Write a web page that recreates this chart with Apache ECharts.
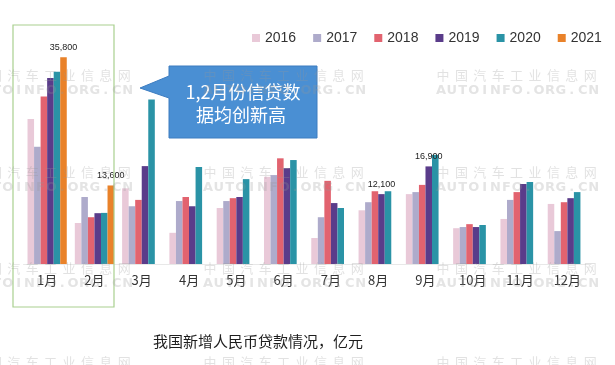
<!DOCTYPE html>
<html><head><meta charset="utf-8">
<script src="https://cdn.jsdelivr.net/npm/echarts@6/dist/echarts.min.js"></script>
<style>html,body{margin:0;padding:0;background:#fff}#c{width:615px;height:365px}</style>
</head><body><div id="c"></div>
<script>
const months = ['1月','2月','3月','4月','5月','6月','7月','8月','9月','10月','11月','12月'];
const years = ['2016','2017','2018','2019','2020','2021'];
const colors = ['#e9c9d8','#aeabcb','#e2636f','#5a3c8a','#2a93a6','#e9822a'];
const v2016 = [25100, 7100, 13100, 5400, 9700, 15100, 4500, 9300, 12100, 6200, 7800, 10400];
const v2017 = [20300, 11600, 10000, 10900, 10900, 15400, 8100, 10700, 12450, 6400, 11100, 5700];
const v2018 = [29000, 8100, 11100, 11600, 11400, 18300, 14400, 12600, 13700, 6900, 12450, 10700];
const v2019 = [32200, 8800, 16950, 10000, 11600, 16600, 10550, 12100, 16900, 6400, 13850, 11400];
const v2020 = [33300, 8850, 28500, 16800, 14700, 18000, 9700, 12600, 18900, 6750, 14200, 12450];
const v2021 = [35800, 13600, null, null, null, null, null, null, null, null, null, null];
// value labels shown in the chart: [series index, month index]
const labelled = [[5,0],[5,1],[3,7],[3,8]];
const titleText = '我国新增人民币贷款情况，亿元';
const calloutLines = ['1,2月份信贷数','据均创新高'];
const wmCN = '中国汽车工业信息网';
const wmEN = 'AUTOINFO.ORG.CN';

const allVals = [v2016,v2017,v2018,v2019,v2020,v2021];
const fmt = v => v.toLocaleString('en-US');
const series = years.map((y,si) => ({
  name: y, type: 'bar', barGap: '0%', barCategoryGap: '17%',
  itemStyle: {color: colors[si]},
  data: allVals[si].map((v,mi) => {
    const lab = labelled.some(p => p[0]===si && p[1]===mi);
    return lab ? {value: v, label: {show: true, position: 'top', distance: 5, fontSize: 9, color: '#222', fontFamily: 'Liberation Sans', formatter: p => fmt(p.value)}} : v;
  })
}));

const wm = [];
[-30, 203, 436].forEach(x => [75, 172, 268, 362].forEach(y => {
  wmCN.split('').forEach((ch, i) => wm.push({type:'text', x: x + i*18.4 + 7, y: y, z: 100, silent: true,
    style:{text: ch, font: '13px "Noto Sans CJK SC"', fill: 'rgba(150,150,150,0.28)', align:'center', verticalAlign:'middle'}}));
  wmEN.split('').forEach((ch, i) => wm.push({type:'text', x: x + i*10.9 + 5, y: y + 16, z: 100, silent: true,
    style:{text: ch, font: 'bold 13px "DejaVu Sans"', fill: 'rgba(150,150,150,0.26)', align:'center', verticalAlign:'middle'}}));
}));

const chart = echarts.init(document.getElementById('c'), null, {renderer: 'canvas'});
chart.setOption({
  animation: false,
  color: colors,
  legend: {left: 247, top: 26, itemWidth: 8, itemHeight: 8, itemGap: 17, icon: 'rect',
    textStyle: {fontSize: 14, color: '#333', fontFamily: 'Liberation Sans'}},
  grid: {left: 23.5, right: 24, top: 33, bottom: 101},
  xAxis: {type: 'category', data: months,
    axisLine: {show: true, lineStyle: {color: '#e8e8e8'}},
    axisTick: {show: false},
    axisLabel: {fontSize: 13, color: '#333', margin: 10, fontFamily: 'Noto Sans CJK SC'}},
  yAxis: {type: 'value', min: 0, max: 40000, show: false, splitLine: {show: false}},
  series: series,
  graphic: [
    {type:'rect', shape:{x:13, y:25, width:101, height:282}, z: 90,
      style:{fill:'none', stroke:'#a9d08f', lineWidth:1.2}},
    {type:'polygon', shape:{points:[[169,66],[317,66],[317,138],[169,138],[169,98],[140,88],[169,76]]}, z: 95,
      style:{fill:'#4a8fd3', stroke:'#3c7cc0', lineWidth:1}},
    {type:'text', x: 243, y: 92, z: 96,
      style:{text: calloutLines[0], font: '18px "Noto Sans CJK SC"', fill:'#fff', align:'center', verticalAlign:'middle'}},
    {type:'text', x: 241, y: 115, z: 96,
      style:{text: calloutLines[1], font: '18px "Noto Sans CJK SC"', fill:'#fff', align:'center', verticalAlign:'middle'}},
    {type:'text', x: 258, y: 341, z: 96,
      style:{text: titleText, font: '15px "Noto Sans CJK SC"', fill:'#1e1e1e', align:'center', verticalAlign:'middle'}}
  ].concat(wm)
});
</script></body></html>
